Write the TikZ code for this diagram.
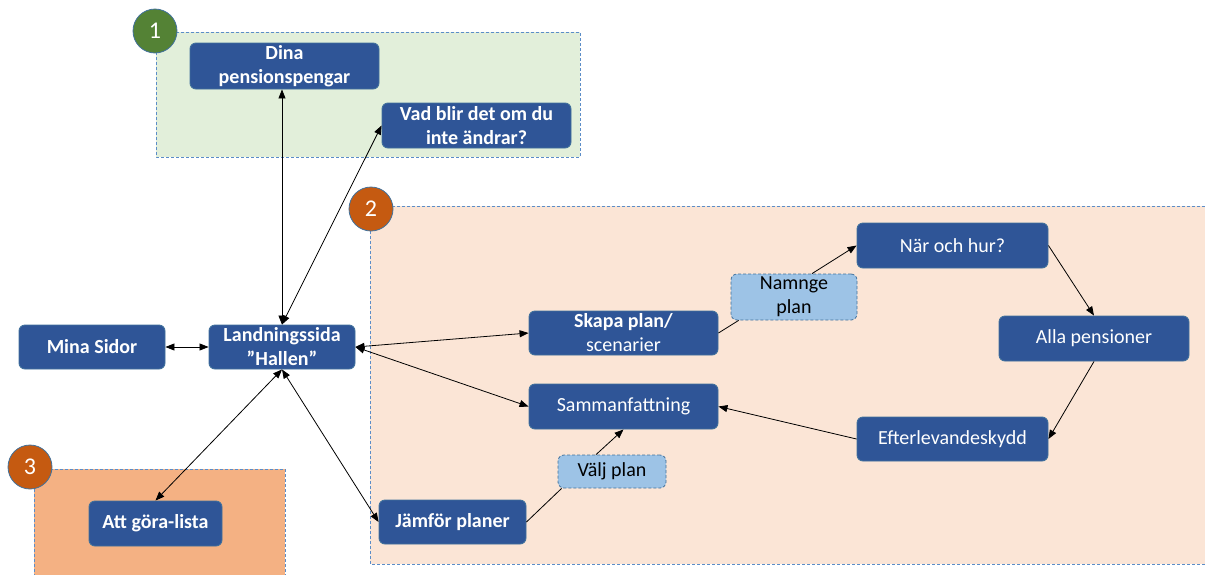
\documentclass[tikz,border=0pt]{standalone}
\usepackage{fontspec}
\setmainfont{Carlito}
\usetikzlibrary{arrows.meta,calc}
\definecolor{navfill}{HTML}{2F5597}
\definecolor{navedge}{HTML}{41719C}
\definecolor{optfill}{HTML}{9DC3E6}
\definecolor{grpgreen}{HTML}{E2EFDA}
\definecolor{grppeach}{HTML}{FBE5D6}
\definecolor{grporange}{HTML}{F4B183}
\definecolor{grpedge}{HTML}{5B8DC8}
\definecolor{numgreen}{HTML}{548235}
\definecolor{numorange}{HTML}{C55A11}
\tikzset{
  pagebox/.style={draw=navedge, line width=0.9pt, fill=navfill, rounded corners=6pt,
    text=white, font=\fontsize{20}{24}\selectfont, align=center, inner sep=0pt},
  optbox/.style={draw=navedge, line width=0.8pt, dash pattern=on 3pt off 2pt, fill=optfill,
    rounded corners=6pt, text=black, font=\fontsize{20}{24}\selectfont, align=center, inner sep=0pt},
  group/.style={draw=grpedge, line width=0.8pt, dash pattern=on 3pt off 2pt},
  badge/.style={circle, draw=navedge, line width=0.8pt, minimum size=44pt, inner sep=0pt,
    text=white, font=\fontsize{24}{28}\selectfont},
  link/.style={line width=0.8pt, -{Triangle[length=9pt,width=7pt]}},
  dlink/.style={line width=0.8pt, {Triangle[length=9pt,width=7pt]}-{Triangle[length=9pt,width=7pt]}},
  plain/.style={line width=0.8pt}
}
\begin{document}
\begin{tikzpicture}[x=1pt,y=-1pt]
  \fill[white] (0,0) rectangle (1205,574);
  \useasboundingbox (0,0) rectangle (1205,574);

  % groups
  \path[group, fill=grpgreen] (156,32) rectangle (580,157);
  \path[group, fill=grppeach] (370,206) rectangle (1212,564);
  \path[group, fill=grporange] (34,469) rectangle (285,580);
  \node[badge, fill=numgreen] (b1) at (155,31) {1};
  \node[badge, fill=numorange] (b2) at (371,209) {2};
  \node[badge, fill=numorange] (b3) at (30,467) {3};

  % pages
  \node[pagebox, minimum width=189pt, minimum height=46pt] (dina) at (284.5,66)
    {\textbf{Dina}\\\textbf{pensionspengar}};
  \node[pagebox, minimum width=189pt, minimum height=45pt] (vad) at (476.5,125.5)
    {\textbf{Vad blir det om du}\\\textbf{inte ändrar?}};
  \node[pagebox, minimum width=146pt, minimum height=44pt] (mina) at (92,347) {\textbf{Mina Sidor}};
  \node[pagebox, minimum width=146pt, minimum height=44pt] (land) at (282,347)
    {\textbf{Landningssida}\\\textbf{”Hallen”}};
  \node[pagebox, minimum width=133pt, minimum height=45pt] (att) at (155.5,523.5) {\textbf{Att göra-lista}};
  \node[pagebox, minimum width=189pt, minimum height=44pt] (skapa) at (623.5,333)
    {\textbf{Skapa plan/}\\scenarier};
  \node[pagebox, minimum width=189pt, minimum height=45pt] (samman) at (623.5,406.5) {Sammanfattning};
  \node[pagebox, minimum width=147pt, minimum height=44pt] (jamfor) at (452.5,522) {\textbf{Jämför planer}};
  \node[pagebox, minimum width=191pt, minimum height=45pt] (nar) at (952.5,245.5) {När och hur?};
  \node[pagebox, minimum width=190pt, minimum height=45pt] (alla) at (1094,338.5) {Alla pensioner};
  \node[pagebox, minimum width=191pt, minimum height=44pt] (eft) at (952.5,439) {Efterlevandeskydd};

  % optional steps
  \node[optbox, minimum width=126pt, minimum height=46pt] (namnge) at (794,297) {Namnge\\plan};
  \node[optbox, minimum width=108pt, minimum height=33pt] (valj) at (612,471.5) {Välj plan};

  % connectors
  \draw[dlink] (land.north) -- (land.north |- dina.south);
  \draw[dlink] (land.north) -- (vad.west);
  \draw[dlink] (mina.east) -- (land.west);
  \draw[dlink] (land.east) -- (skapa.west);
  \draw[dlink] (land.east) -- (samman.west);
  \draw[dlink] (land.south) -- (att.north);
  \draw[dlink] (land.south) -- (jamfor.west);
  \draw[plain] (skapa.east) -- ($(namnge.south west)+(8,0)$);
  \draw[link] ($(namnge.north)+(18,0)$) -- (nar.west);
  \draw[link] (nar.east) -- (alla.north);
  \draw[link] (alla.south) -- (eft.east);
  \draw[link] (eft.west) -- (samman.east);
  \draw[plain] (jamfor.east) -- ($(valj.south west)+(4,0)$);
  \draw[link] ($(valj.north)+(-16,0)$) -- (samman.south);
\end{tikzpicture}
\end{document}
